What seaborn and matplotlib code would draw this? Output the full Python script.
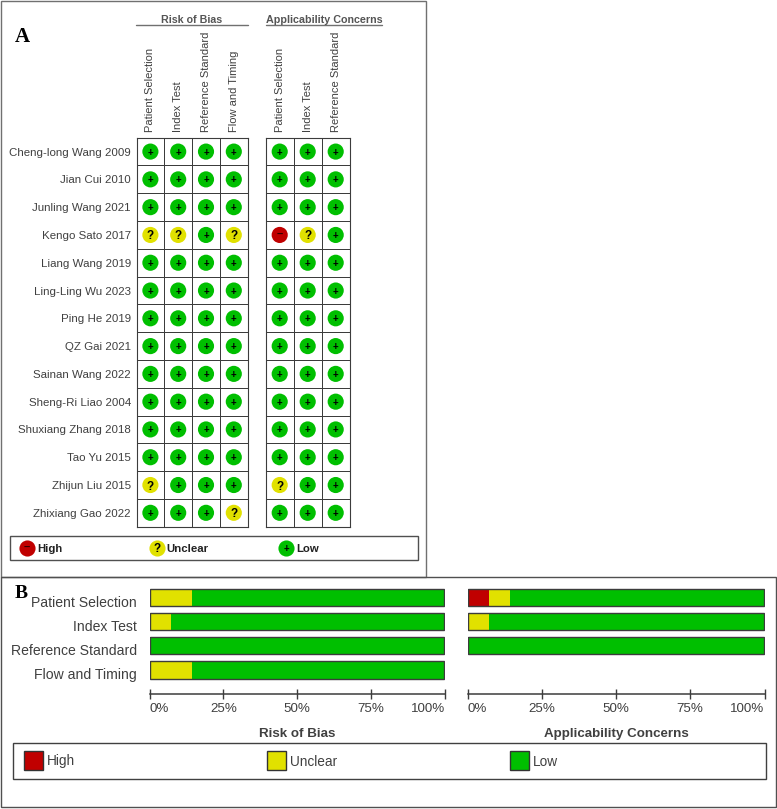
import numpy as np
import pandas as pd
import matplotlib
matplotlib.use("Agg")
import matplotlib.pyplot as plt
from matplotlib.colors import ListedColormap
from matplotlib.patches import Rectangle
import seaborn as sns

sns.set_style("white")
plt.rcParams['font.family'] = ['Liberation Sans', 'DejaVu Sans']

W, H = 777, 809

studies = ["Cheng-long Wang 2009", "Jian Cui 2010", "Junling Wang 2021", "Kengo Sato 2017",
           "Liang Wang 2019", "Ling-Ling Wu 2023", "Ping He 2019", "QZ Gai 2021",
           "Sainan Wang 2022", "Sheng-Ri Liao 2004", "Shuxiang Zhang 2018", "Tao Yu 2015",
           "Zhijun Liu 2015", "Zhixiang Gao 2022"]

# judgements per study, one string per domain
rob_patient   = list("LLLULLLLLLLLUL")
rob_index     = list("LLLULLLLLLLLLL")
rob_reference = list("LLLLLLLLLLLLLL")
rob_flow      = list("LLLULLLLLLLLLU")
app_patient   = list("LLLHLLLLLLLLUL")
app_index     = list("LLLULLLLLLLLLL")
app_reference = list("LLLLLLLLLLLLLL")

domains = ["Patient Selection", "Index Test", "Reference Standard", "Flow and Timing"]

# percentages in panel B
rob_unclear_pct = [14.3, 7.1, 0, 14.3]
rob_low_pct     = [85.7, 92.9, 100, 85.7]
app_high_pct    = [7.1, 0, 0]
app_unclear_pct = [7.1, 7.1, 0]
app_low_pct     = [85.8, 92.9, 100]

RED, YELLOW, GREEN = "#c00000", "#e1e100", "#00bf00"
colors = {"H": RED, "U": YELLOW, "L": GREEN}
glyphs = {"H": "\u2013", "U": "?", "L": "+"}
glyph_size = {"H": 8, "U": 8.5, "L": 7}
glyph_col = {"H": "#300000", "U": "black", "L": "black"}
GRID = "#3c3c3c"
TXT = "#404040"


def px_axes(x0, y0, x1, y1):
    # axes from a pixel box, y counted from the top
    return fig.add_axes([x0 / W, 1 - y1 / H, (x1 - x0) / W, (y1 - y0) / H])


def draw_matrix(ax, columns, show_rows):
    df = pd.DataFrame(columns, index=studies)
    sns.heatmap(np.zeros(df.shape), cmap=ListedColormap(["white"]), cbar=False, linewidths=0.7,
                linecolor=GRID, xticklabels=list(df.columns),
                yticklabels=studies if show_rows else False, ax=ax)
    long = df.reset_index(drop=True).melt(ignore_index=False, var_name="domain", value_name="judgement")
    long["y"] = long.index + 0.5
    long["x"] = long["domain"].map({c: i + 0.5 for i, c in enumerate(df.columns)})
    sns.scatterplot(data=long, x="x", y="y", hue="judgement", palette=colors, s=135,
                    linewidth=0, legend=False, ax=ax, zorder=3)
    for _, r in long.iterrows():
        # the dash sits a little low in its line box, so it is centred on its own ink
        ax.text(r["x"], r["y"], glyphs[r["judgement"]], ha="center",
                va="center" if r["judgement"] == "H" else "center_baseline", fontweight="bold",
                fontsize=glyph_size[r["judgement"]], color=glyph_col[r["judgement"]], zorder=4)
    ax.set_xlim(0, df.shape[1])
    ax.set_ylim(df.shape[0], 0)
    ax.set_xlabel("")
    ax.set_ylabel("")
    ax.xaxis.tick_top()
    ax.tick_params(axis="x", length=0, pad=4.3, labelsize=8.05, labelcolor=TXT, labelrotation=90)
    ax.tick_params(axis="y", length=0, pad=4, labelsize=8.25, labelcolor=TXT, labelrotation=0)
    for lab in ax.get_yticklabels():
        lab.set_va("center_baseline")
    for s in ax.spines.values():
        s.set_visible(True)
        s.set_color(GRID)
        s.set_linewidth(0.8)


def draw_bars(ax, rows, layers, title, show_rows):
    # layers are painted longest first, so each one shows as a stacked segment
    for values, col in layers:
        sns.barplot(x=values, y=rows, order=domains, orient="h", color=col, saturation=1,
                    width=0.73, linewidth=0, ax=ax)
    sns.barplot(x=[100] * len(rows), y=rows, order=domains, orient="h", color=GRID, fill=False,
                width=0.73, linewidth=1, ax=ax)
    ax.set_xlim(0, 100.3)
    ax.set_ylim(4.01, -0.5)
    ax.set_xticks([0, 25, 50, 75, 100.3])
    ax.set_xticklabels(["0%", "25%", "50%", "75%", "100%"])
    ax.tick_params(axis="x", direction="inout", bottom=True, length=7, width=1, color=GRID,
                   pad=3, labelsize=9.6, labelcolor=TXT)
    labs = ax.get_xticklabels()
    labs[0].set_ha("left")
    labs[-1].set_ha("right")
    ax.set_yticks([])
    ax.set_ylabel("")
    ax.set_xlabel(title, fontweight="bold", fontsize=9.6, color=TXT, labelpad=9)
    sns.despine(ax=ax, left=True)
    ax.spines["bottom"].set_color(GRID)
    ax.spines["bottom"].set_linewidth(1.1)
    ax.patch.set_alpha(0)
    if show_rows:
        for i, d in enumerate(domains):
            ax.text(-0.044, i + 5 / 24, d, transform=ax.get_yaxis_transform(), ha="right", va="center",
                    fontsize=10.05, color=TXT)


fig = plt.figure(figsize=(W / 100, H / 100), dpi=100)

# page layer in pixels: frames, headings, legends
bg = fig.add_axes([0, 0, 1, 1])
bg.set_xlim(0, W)
bg.set_ylim(H, 0)
bg.axis("off")
bg.add_patch(Rectangle((1.3, 0.8), 425, 576.5, fc="none", ec="#707070", lw=1))
bg.add_patch(Rectangle((1.3, 577.3), 774.4, 229.7, fc="none", ec="#505050", lw=1))
bg.text(15, 42, "A", family="Liberation Serif", fontweight="bold", fontsize=15, color="black")
bg.text(15, 597.7, "B", family="Liberation Serif", fontweight="bold", fontsize=14, color="black")

bg.text(192, 19.7, "Risk of Bias", ha="center", va="center", fontweight="bold", fontsize=7.7, color="#555555")
bg.text(324, 19.7, "Applicability Concerns", ha="center", va="center", fontweight="bold", fontsize=7.75, color="#555555")
bg.plot([136.3, 247.7], [24.7, 24.7], color="#707070", lw=1)
bg.plot([265.7, 382.3], [24.7, 24.7], color="#707070", lw=1)

# legend of panel A
bg.add_patch(Rectangle((10.3, 535.7), 407.7, 24.3, fc="white", ec="#505050", lw=1))
for lab, key, cx, tx in [("High", "H", 27, 37.3), ("Unclear", "U", 156.7, 166.7), ("Low", "L", 286.3, 296.7)]:
    bg.scatter([cx], [548], s=135, color=colors[key], linewidth=0)
    bg.text(cx, 548, glyphs[key], ha="center", va="center" if key == "H" else "center_baseline",
            fontweight="bold", fontsize=glyph_size[key], color=glyph_col[key])
    bg.text(tx, 549, lab, va="center", fontweight="bold", fontsize=8.2, color="#222222")

# legend of panel B
bg.add_patch(Rectangle((12.5, 743), 753.5, 35.7, fc="white", ec="#404040", lw=1))
for lab, col, sx, tx in [("High", RED, 24, 47), ("Unclear", YELLOW, 266.7, 290), ("Low", GREEN, 510, 532.7)]:
    bg.add_patch(Rectangle((sx, 751), 19, 18.7, fc=col, ec="#333333", lw=1))
    bg.text(tx, 761.5, lab, va="center", fontsize=9.8, color=TXT)

# panel A matrices
ax1 = px_axes(136.5, 137.7, 247.7, 526.7)
draw_matrix(ax1, {domains[0]: rob_patient, domains[1]: rob_index, domains[2]: rob_reference, domains[3]: rob_flow}, True)
ax2 = px_axes(265.7, 137.7, 349.7, 526.7)
draw_matrix(ax2, {domains[0]: app_patient, domains[1]: app_index, domains[2]: app_reference}, False)

# panel B bars
rob_layers = [([100, 100, 100, 100], GREEN),
              (rob_unclear_pct, YELLOW)]
ax3 = px_axes(149.7, 585.7, 445.3, 694)
draw_bars(ax3, domains, rob_layers, "Risk of Bias", True)

app_rows = domains[:3]
app_layers = [([100, 100, 100], GREEN),
              ([h + u for h, u in zip(app_high_pct, app_unclear_pct)], YELLOW),
              (app_high_pct, RED)]
ax4 = px_axes(467.7, 585.7, 764.7, 694)
draw_bars(ax4, app_rows, app_layers, "Applicability Concerns", False)

fig.savefig("out.png", dpi=100)
